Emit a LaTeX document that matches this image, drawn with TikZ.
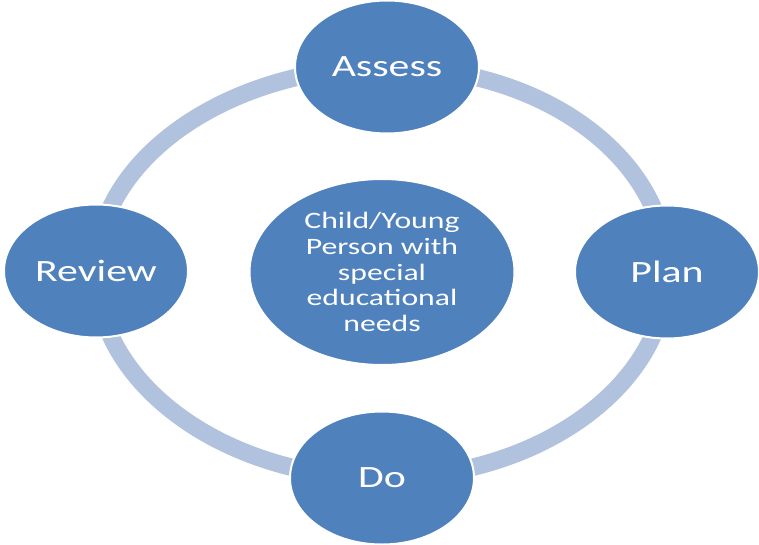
\documentclass[tikz,border=0pt]{standalone}
\usepackage{fontspec}
\setmainfont{Carlito}[FakeStretch=1.35]
\usetikzlibrary{shapes.geometric,backgrounds}
\definecolor{nodeblue}{HTML}{4F81BD}
\definecolor{ringblue}{HTML}{B0C2DE}
\begin{document}
\begin{tikzpicture}[x=1pt,y=1pt,
  stage/.style={ellipse, fill=nodeblue, draw=white, line width=2pt,
    inner sep=0pt, minimum width=184pt, minimum height=133pt,
    text=white, font=\fontsize{31}{34}\selectfont},
  hub/.style={ellipse, fill=nodeblue, draw=white, line width=2pt,
    inner sep=0pt, minimum width=265pt, minimum height=186pt,
    text=white, align=center, font=\fontsize{23.5}{25.7}\selectfont},
  ringarc/.style={draw=ringblue, line width=17.5pt},
  quarter/.style 2 args={out min distance=#1, out max distance=#1,
    in min distance=#2, in max distance=#2}
]
\useasboundingbox (0,0) rectangle (759,544);

% cycle stages
\node[stage] (assess) at (387,477) {Assess};
\node[stage] (plan)   at (667,272) {Plan};
\node[stage] (do)     at (382,66)  {Do};
\node[stage] (review) at (96,273)  {Review};

% centre
\node[hub] (child) at (382,272) {Child/Young\\Person with\\special\\educational\\needs};

% ring joining the stages, kept underneath them
\begin{scope}[on background layer]
\path[ringarc] (assess.center) to[out=180, in=90, quarter={157pt}{113pt}] (review.center);
\path[ringarc] (review.center) to[out=-90, in=180, quarter={113pt}{157pt}] (do.center);
\path[ringarc] (do.center) to[out=0, in=-90, quarter={157pt}{113pt}] (plan.center);
\path[ringarc] (plan.center) to[out=90, in=0, quarter={113pt}{157pt}] (assess.center);
\end{scope}
\end{tikzpicture}
\end{document}
